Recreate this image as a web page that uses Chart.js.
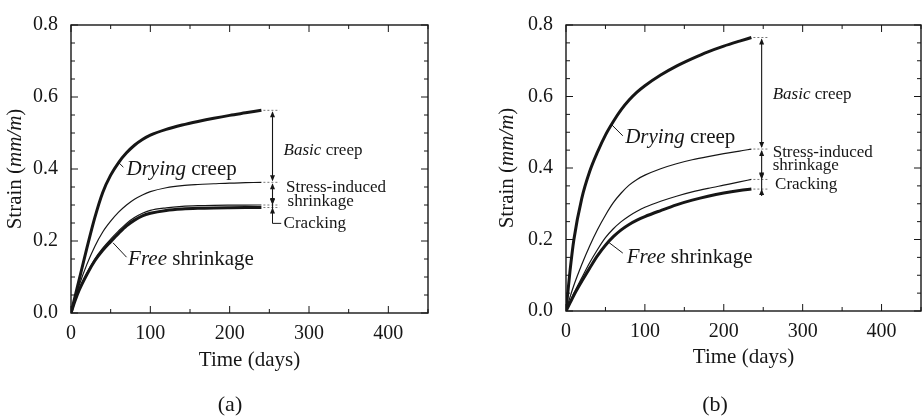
<!DOCTYPE html>
<html>
<head>
<meta charset="utf-8">
<script src="https://cdn.jsdelivr.net/npm/chart.js@4.4.0/dist/chart.umd.min.js"></script>
<style>
  html, body { margin: 0; padding: 0; background: #fff; }
  .panel { position: absolute; top: 0; height: 419px; }
  #boxA { left: 0; width: 460px; }
  #boxB { left: 460px; width: 462px; }
</style>
</head>
<body>
<div class="panel" id="boxA"><canvas id="chartA"></canvas></div>
<div class="panel" id="boxB"><canvas id="chartB"></canvas></div>
<script>
// strain (mm/m) against time (days), panel (a)
const timeA      = [0, 5, 10, 20, 30, 40, 50, 60, 70, 80, 90, 100, 120, 140, 160, 180, 200, 220, 240];
const dryingA    = [0, 0.045, 0.09, 0.18, 0.265, 0.335, 0.383, 0.418, 0.445, 0.466, 0.482, 0.494, 0.510, 0.522, 0.532, 0.541, 0.549, 0.556, 0.563];
const stressA    = [0, 0.04, 0.075, 0.135, 0.185, 0.225, 0.255, 0.280, 0.300, 0.316, 0.328, 0.337, 0.348, 0.354, 0.357, 0.359, 0.361, 0.362, 0.363];
const crackingA  = [0, 0.034, 0.064, 0.111, 0.150, 0.180, 0.205, 0.228, 0.249, 0.265, 0.277, 0.285, 0.292, 0.296, 0.298, 0.299, 0.2995, 0.2998, 0.300];
const freeA      = [0, 0.033, 0.062, 0.107, 0.145, 0.174, 0.198, 0.221, 0.242, 0.258, 0.270, 0.277, 0.285, 0.289, 0.291, 0.292, 0.2925, 0.2928, 0.293];

// panel (b)
const timeB      = [0, 5, 10, 20, 30, 40, 50, 60, 70, 80, 90, 100, 120, 140, 160, 180, 200, 220, 235];
const dryingB    = [0, 0.11, 0.20, 0.315, 0.39, 0.445, 0.492, 0.530, 0.563, 0.590, 0.612, 0.630, 0.660, 0.685, 0.706, 0.725, 0.741, 0.755, 0.765];
const stressB    = [0, 0.038, 0.072, 0.13, 0.182, 0.228, 0.268, 0.303, 0.330, 0.352, 0.368, 0.380, 0.398, 0.412, 0.423, 0.432, 0.440, 0.447, 0.453];
const crackingB  = [0, 0.025, 0.05, 0.093, 0.135, 0.172, 0.205, 0.230, 0.250, 0.266, 0.279, 0.290, 0.307, 0.321, 0.333, 0.343, 0.352, 0.361, 0.368];
const freeB      = [0, 0.022, 0.044, 0.083, 0.120, 0.155, 0.184, 0.208, 0.227, 0.242, 0.254, 0.264, 0.281, 0.297, 0.310, 0.321, 0.330, 0.337, 0.341];

const xTickValues = [0, 100, 200, 300, 400];
const yTickValues = [0, 0.2, 0.4, 0.6, 0.8];

const SERIF = "'Liberation Serif', 'DejaVu Serif', serif";
const INK = '#161616';

function pts(times, vals) {
  return times.map((t, i) => ({ x: t, y: vals[i] }));
}

function line(data, width) {
  return {
    data, borderColor: INK, borderWidth: width, pointRadius: 0,
    cubicInterpolationMode: 'monotone', fill: false
  };
}

function fontStr(size, italic) {
  return (italic ? 'italic ' : '') + size + 'px ' + SERIF;
}

// draws a row of text pieces, some italic, starting at x (left) or centred
function drawParts(ctx, parts, size, x, y, centre) {
  let total = 0;
  parts.forEach(p => { ctx.font = fontStr(size, p[1]); total += ctx.measureText(p[0]).width; });
  let cx = centre ? x - total / 2 : x;
  ctx.textAlign = 'left';
  ctx.textBaseline = 'middle';
  parts.forEach(p => {
    ctx.font = fontStr(size, p[1]);
    ctx.fillText(p[0], cx, y);
    cx += ctx.measureText(p[0]).width;
  });
}

function head(ctx, x, yTip, dir) {
  // dir -1 points up, +1 points down
  ctx.beginPath();
  ctx.moveTo(x, yTip);
  ctx.lineTo(x - 2.5, yTip - dir * 6);
  ctx.lineTo(x + 2.5, yTip - dir * 6);
  ctx.closePath();
  ctx.fill();
}

const notesPlugin = {
  id: 'strainNotes',
  afterDatasetsDraw(chart, args, o) {
    const { ctx, chartArea: a } = chart;
    const x = chart.scales.x, y = chart.scales.y;
    ctx.save();
    ctx.strokeStyle = INK;
    ctx.fillStyle = INK;

    // frame
    ctx.lineWidth = 1.4;
    ctx.strokeRect(a.left, a.top, a.width, a.height);

    // inward ticks on all four sides
    ctx.lineWidth = 1;
    ctx.beginPath();
    for (let t = 0; t <= 450; t += 50) {
      const px = x.getPixelForValue(t);
      const len = t % 100 === 0 ? 7 : 4;
      ctx.moveTo(px, a.bottom); ctx.lineTo(px, a.bottom - len);
      ctx.moveTo(px, a.top); ctx.lineTo(px, a.top + len);
    }
    for (let k = 0; k <= 16; k++) {
      const py = y.getPixelForValue(k * 0.05);
      const len = k % 4 === 0 ? 7 : 4;
      ctx.moveTo(a.left, py); ctx.lineTo(a.left + len, py);
      ctx.moveTo(a.right, py); ctx.lineTo(a.right - len, py);
    }
    ctx.stroke();

    // end levels of the four curves, dotted guides and dimension arrows
    const sets = chart.data.datasets;
    const ax = x.getPixelForValue(o.arrowT);
    const levels = sets.map(d => d.data[d.data.length - 1]);
    ctx.save();
    ctx.strokeStyle = '#777';
    ctx.lineWidth = 1;
    ctx.setLineDash([2, 2]);
    ctx.beginPath();
    levels.forEach(p => {
      const py = y.getPixelForValue(p.y);
      ctx.moveTo(x.getPixelForValue(p.x) + 2, py);
      ctx.lineTo(ax + 7, py);
    });
    ctx.stroke();
    ctx.restore();

    const order = levels.map(p => p.y).sort((m, n) => n - m);
    ctx.lineWidth = 1.1;
    for (let i = 0; i < order.length - 1; i++) {
      const y1 = y.getPixelForValue(order[i]);
      const y2 = y.getPixelForValue(order[i + 1]);
      if (y2 - y1 > 14) {
        ctx.beginPath(); ctx.moveTo(ax, y1 + 2); ctx.lineTo(ax, y2 - 2); ctx.stroke();
        head(ctx, ax, y1 + 1, -1);
        head(ctx, ax, y2 - 1, 1);
      } else {
        ctx.beginPath();
        ctx.moveTo(ax, y1 - 7); ctx.lineTo(ax, y2 + 7);
        ctx.stroke();
        head(ctx, ax, y1, 1);
        head(ctx, ax, y2, -1);
      }
    }

    // leader lines
    ctx.lineWidth = 1;
    o.leaders.forEach(path => {
      ctx.beginPath();
      path.forEach((q, i) => {
        const px = x.getPixelForValue(q[0]), py = y.getPixelForValue(q[1]);
        if (i === 0) ctx.moveTo(px, py); else ctx.lineTo(px, py);
      });
      ctx.stroke();
    });

    // labels
    o.labels.forEach(l => {
      drawParts(ctx, l.parts, l.size, x.getPixelForValue(l.t), y.getPixelForValue(l.v), false);
    });

    // axis titles and caption
    drawParts(ctx, [['Time (days)', false]], 21, (a.left + a.right) / 2, o.xTitleY, true);
    ctx.save();
    ctx.translate(o.yTitleX, (a.top + a.bottom) / 2);
    ctx.rotate(-Math.PI / 2);
    drawParts(ctx, [['Strain (', false], ['mm/m', true], [')', false]], 21, 0, 0, true);
    ctx.restore();
    drawParts(ctx, [[o.caption, false]], 22, o.captionX, 405, true);

    ctx.restore();
  }
};

function makeChart(id, times, series, box, notes) {
  return new Chart(document.getElementById(id), {
    type: 'line',
    data: {
      datasets: [
        line(pts(times, series[0]), 3),
        line(pts(times, series[1]), 1.2),
        line(pts(times, series[2]), 1.2),
        line(pts(times, series[3]), 3)
      ]
    },
    options: {
      responsive: true,
      maintainAspectRatio: false,
      animation: false,
      layout: { padding: { left: 0, right: box.right, top: 14, bottom: 0 } },
      scales: {
        x: {
          type: 'linear', min: 0, max: 450,
          grid: { display: false, drawTicks: false },
          border: { display: false },
          afterBuildTicks: s => { s.ticks = xTickValues.map(v => ({ value: v })); },
          afterFit: s => { s.height = box.bottom; },
          ticks: {
            autoSkip: false, maxRotation: 0, padding: 9, color: INK,
            font: { family: SERIF, size: 20 }
          }
        },
        y: {
          type: 'linear', min: 0, max: 0.8,
          grid: { display: false, drawTicks: false },
          border: { display: false },
          afterBuildTicks: s => { s.ticks = yTickValues.map(v => ({ value: v })); },
          afterFit: s => { s.width = box.left; },
          ticks: {
            autoSkip: false, padding: 13, color: INK,
            font: { family: SERIF, size: 20 },
            callback: v => Number(v).toFixed(1)
          }
        }
      },
      plugins: {
        legend: { display: false },
        tooltip: { enabled: false },
        strainNotes: notes
      }
    },
    plugins: [notesPlugin]
  });
}

makeChart('chartA', timeA, [dryingA, stressA, crackingA, freeA],
  { left: 71, right: 32, bottom: 106 },
  {
    arrowT: 254, xTitleY: 360, yTitleX: 15, caption: '(a)', captionX: 230,
    leaders: [
      [[60, 0.418], [66, 0.405]],
      [[53, 0.195], [70, 0.155]],
      [[254, 0.285], [254, 0.249], [265, 0.249]]
    ],
    labels: [
      { t: 268, v: 0.452, size: 17, parts: [['Basic', true], [' creep', false]] },
      { t: 271, v: 0.348, size: 17, parts: [['Stress-induced', false]] },
      { t: 273, v: 0.310, size: 17, parts: [['shrinkage', false]] },
      { t: 268, v: 0.249, size: 17, parts: [['Cracking', false]] },
      { t: 70, v: 0.399, size: 21, parts: [['Drying', true], [' creep', false]] },
      { t: 72, v: 0.150, size: 21, parts: [['Free', true], [' shrinkage', false]] }
    ]
  });

makeChart('chartB', timeB, [dryingB, stressB, crackingB, freeB],
  { left: 106, right: 1, bottom: 108 },
  {
    arrowT: 248, xTitleY: 357, yTitleX: 47, caption: '(b)', captionX: 255,
    leaders: [
      [[57, 0.523], [72, 0.490]],
      [[53, 0.194], [72, 0.162]]
    ],
    labels: [
      { t: 262, v: 0.606, size: 17, parts: [['Basic', true], [' creep', false]] },
      { t: 262, v: 0.442, size: 17, parts: [['Stress-induced', false]] },
      { t: 262, v: 0.407, size: 17, parts: [['shrinkage', false]] },
      { t: 265, v: 0.353, size: 17, parts: [['Cracking', false]] },
      { t: 75, v: 0.485, size: 21, parts: [['Drying', true], [' creep', false]] },
      { t: 77, v: 0.151, size: 21, parts: [['Free', true], [' shrinkage', false]] }
    ]
  });
</script>
</body>
</html>
